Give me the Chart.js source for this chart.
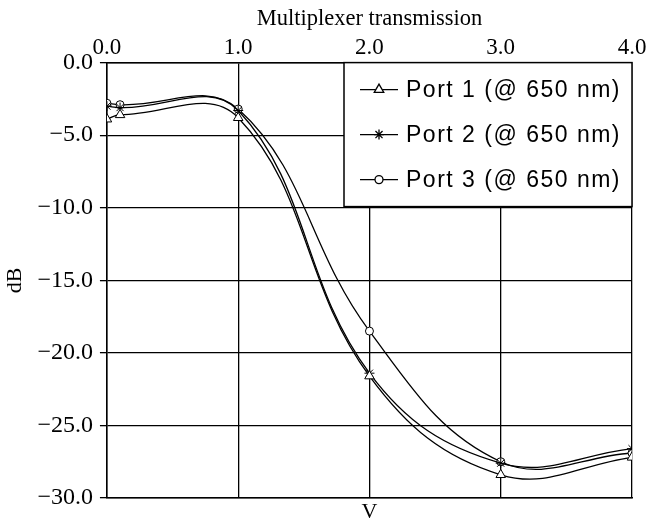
<!DOCTYPE html>
<html>
<head>
<meta charset="utf-8">
<script src="https://cdn.jsdelivr.net/npm/chart.js@4.4.0/dist/chart.umd.min.js"></script>
<style>
  html, body { margin: 0; padding: 0; background: #fff; }
  #wrap { width: 660px; height: 523px; }
</style>
</head>
<body>
<div id="wrap"><canvas id="chart"></canvas></div>
<script>
// V values (top axis) and the measured transmission in dB
const voltages = [0.0, 0.1, 1.0, 2.0, 3.0, 4.0];
const port1 = [-3.9, -3.6, -3.8, -21.6, -28.4, -27.2];
const port2 = [-3.0, -3.1, -3.3, -21.4, -27.6, -26.6];
const port3 = [-2.8, -2.9, -3.2, -18.5, -27.5, -26.9];

const seriesNames = ['Port 1 (@ 650 nm)', 'Port 2 (@ 650 nm)', 'Port 3 (@ 650 nm)'];
const seriesMarkers = ['triangle', 'star', 'circle'];
const markerSizes = [5.5, 5, 4];

const xTicks = [0, 1, 2, 3, 4];
const yTicks = [0, -5, -10, -15, -20, -25, -30];

const serif = '"Liberation Serif", "DejaVu Serif", serif';

function fmt(v) {
    return v.toFixed(1).replace('-', '\u2212');
}

function toPoints(values) {
    return values.map((v, i) => ({ x: voltages[i], y: v }));
}

// legend box drawn inside the plot, top right corner
const boxLegend = {
    id: 'boxLegend',
    afterDraw(chart) {
        const ctx = chart.ctx;
        const area = chart.chartArea;
        const w = 288, h = 144;
        const left = area.right - w, top = area.top;
        ctx.save();
        ctx.fillStyle = '#fff';
        ctx.fillRect(left, top, w, h);
        ctx.strokeStyle = '#000';
        ctx.lineWidth = 1.5;
        ctx.strokeRect(left, top, w, h);

        chart.data.datasets.forEach((ds, i) => {
            const y = top + 27 + i * 45;
            ctx.strokeStyle = '#000';
            ctx.lineWidth = 1.3;
            ctx.beginPath();
            ctx.moveTo(left + 16, y);
            ctx.lineTo(left + 54, y);
            ctx.stroke();
            ctx.fillStyle = '#fff';
            Chart.helpers.drawPoint(ctx, {
                pointStyle: ds.pointStyle,
                radius: ds.pointRadius,
                rotation: 0,
                borderWidth: 1
            }, left + 35, y);

            ctx.fillStyle = '#000';
            ctx.font = '23px "Liberation Sans", Arial, sans-serif';
            ctx.letterSpacing = '1.5px';
            ctx.textBaseline = 'middle';
            ctx.textAlign = 'left';
            ctx.fillText(ds.label, left + 62, y + 1);
        });
        ctx.restore();
    }
};

const datasets = [port1, port2, port3].map((vals, i) => ({
    label: seriesNames[i],
    data: toPoints(vals),
    borderColor: '#000',
    borderWidth: 1.3,
    backgroundColor: '#fff',
    pointStyle: seriesMarkers[i],
    pointRadius: markerSizes[i],
    pointBorderColor: '#000',
    pointBackgroundColor: '#fff',
    pointBorderWidth: 1,
    tension: 0.4,
    fill: false
}));

new Chart(document.getElementById('chart'), {
    type: 'line',
    data: { datasets: datasets },
    options: {
        responsive: true,
        maintainAspectRatio: false,
        animation: false,
        layout: { padding: { top: 6, right: 28, bottom: 0, left: 2 } },
        plugins: {
            legend: { display: false },
            tooltip: { enabled: false }
        },
        scales: {
            x: {
                type: 'linear',
                position: 'top',
                min: 0,
                max: 4,
                afterBuildTicks: s => { s.ticks = xTicks.map(v => ({ value: v })); },
                grid: { color: '#000', lineWidth: 1.3, drawTicks: false },
                border: { display: true, color: '#000', width: 1.5 },
                ticks: {
                    color: '#000',
                    font: { family: serif, size: 23 },
                    padding: 1,
                    maxRotation: 0,
                    callback: v => fmt(v)
                },
                title: {
                    display: true,
                    text: 'Multiplexer transmission',
                    color: '#000',
                    font: { family: serif, size: 22.5 },
                    padding: { top: 0, bottom: 0 }
                }
            },
            xb: {
                type: 'linear',
                axis: 'x',
                position: 'bottom',
                min: 0,
                max: 4,
                grid: { display: false, drawTicks: false },
                border: { display: true, color: '#000', width: 1.5 },
                ticks: { display: false, padding: 0 },
                title: {
                    display: true,
                    text: 'V',
                    color: '#000',
                    font: { family: serif, size: 22, lineHeight: 1 },
                    padding: { top: 3, bottom: 0 }
                }
            },
            y: {
                min: -30,
                max: 0,
                afterBuildTicks: s => { s.ticks = yTicks.map(v => ({ value: v })); },
                grid: { color: '#000', lineWidth: 1.3, tickLength: 7 },
                border: { display: true, color: '#000', width: 1.5 },
                ticks: {
                    color: '#000',
                    font: { family: serif, size: 24 },
                    padding: 7,
                    callback: v => fmt(v)
                },
                title: {
                    display: true,
                    text: 'dB',
                    color: '#000',
                    font: { family: serif, size: 22 },
                    padding: { top: 0, bottom: 2 }
                }
            }
        }
    },
    plugins: [boxLegend]
});
</script>
</body>
</html>
